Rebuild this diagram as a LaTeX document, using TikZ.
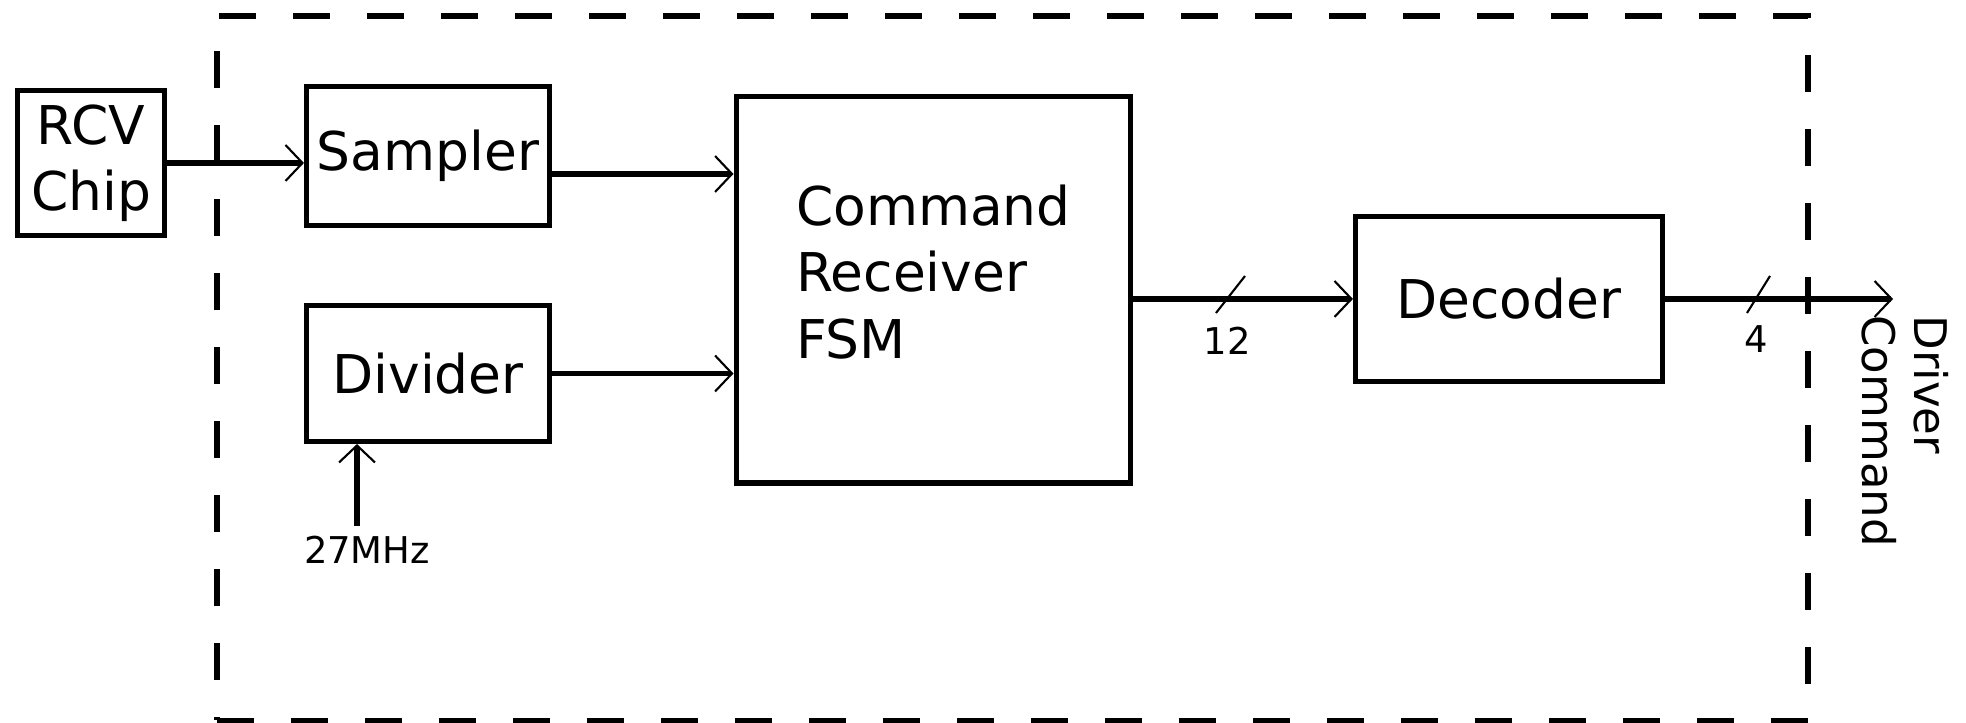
\documentclass[tikz,border=0pt]{standalone}
\usepackage{fontspec}
\setmainfont{DejaVu Sans}
\usetikzlibrary{arrows.meta}

\begin{document}
\begin{tikzpicture}[line width=1.45pt,
  >={Straight Barb[length=0.17cm, width=0.36cm, line width=0.6pt]},
  txt/.style={font=\fontsize{15.2}{18.9}\selectfont},
  bx/.style={draw, txt, inner sep=0pt, align=center},
  lbl/.style={inner sep=0pt, font=\fontsize{10.5}{12}\selectfont},
  bus/.style={line width=0.6pt}]
  \useasboundingbox (0,0) rectangle (19.66,7.23);
  \draw[dash pattern=on 0.37cm off 0.37cm] (2.17,0.025) -- (18.08,0.025) -- (18.08,7.07) -- (2.17,7.07) -- cycle;

  \node[bx, minimum width=1.47cm,  minimum height=1.45cm] (rcv) at (0.91,5.60)  {RCV\\Chip};
  \node[bx, minimum width=2.43cm,  minimum height=1.39cm] (smp) at (4.28,5.67)  {Sampler};
  \node[bx, minimum width=2.43cm,  minimum height=1.36cm] (div) at (4.28,3.495) {Divider};
  \node[bx, minimum width=3.945cm, minimum height=3.863cm,
    label={[txt, align=left, yshift=0.18cm]center:Command\\Receiver\\FSM}] (fsm) at (9.333,4.331) {};
  \node[bx, minimum width=3.07cm,  minimum height=1.65cm] (dec) at (15.09,4.24)  {Decoder};

  \node[lbl] (mhz) at (3.67,1.735) {27MHz};
  \coordinate (clk) at (3.57,1.97);
  \coordinate (out) at (18.93,4.24);

  \draw[->] (rcv.east) -- (rcv.east -| smp.west);
  \draw[->] ([yshift=-0.18cm]smp.east) -- ([yshift=-0.18cm]smp.east -| fsm.west);
  \draw[->] (div.east) -- (div.east -| fsm.west);
  \draw[->] (clk) -- (clk |- div.south);
  \draw[->] (fsm.east |- dec.west) -- (dec.west);
  \draw[->] (dec.east) -- (out);

  \draw[bus] (12.45,4.47) -- (12.16,4.10);
  \draw[bus] (17.70,4.47) -- (17.47,4.10);
  \node[lbl] (w12) at (12.27,3.82) {12};
  \node[lbl] (w4)  at (17.56,3.84) {4};

  \node[lbl, font=\fontsize{12.8}{14.8}\selectfont, rotate=-90, anchor=north west, align=left]
    (drv) at (19.51,4.10) {Driver\\Command};
\end{tikzpicture}
\end{document}
